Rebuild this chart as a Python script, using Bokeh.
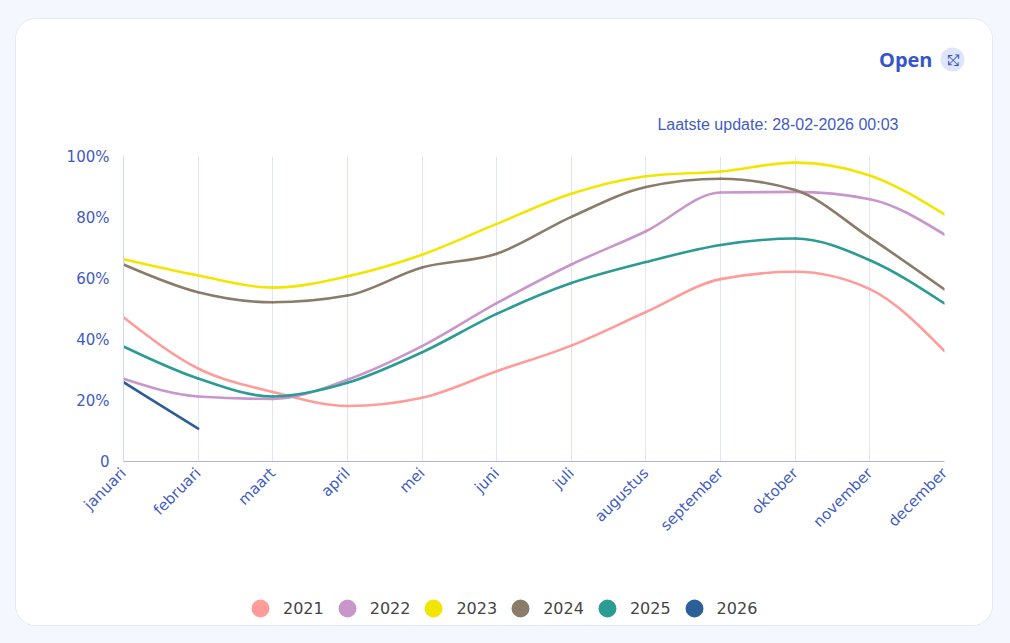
import numpy as np
from bokeh.plotting import figure
from bokeh.models import (FixedTicker, Legend, LegendItem, Label, Spacer,
                          GlobalInlineStyleSheet, ColumnDataSource)
from bokeh.layouts import column, row
from bokeh.embed import file_html
from bokeh.resources import INLINE

# ---------------- data ----------------
months = ["januari", "februari", "maart", "april", "mei", "juni", "juli",
          "augustus", "september", "oktober", "november", "december"]
years = ["2021", "2022", "2023", "2024", "2025", "2026"]
y2021 = [47.3, 30.5, 22.8, 18.2, 20.9, 29.6, 38.0, 49.0, 59.8, 62.2, 56.5, 36.2]
y2022 = [27.1, 21.3, 20.5, 26.8, 37.8, 51.9, 64.6, 75.5, 88.2, 88.4, 86.0, 74.4]
y2023 = [66.3, 61.0, 57.0, 60.7, 67.8, 77.9, 87.8, 93.5, 95.1, 98.0, 93.8, 81.0]
y2024 = [64.6, 55.5, 52.2, 54.4, 63.6, 68.1, 80.2, 90.0, 92.7, 89.0, 73.4, 56.4]
y2025 = [37.7, 27.2, 21.3, 25.8, 35.8, 48.4, 58.5, 65.4, 71.0, 73.1, 66.0, 51.8]
y2026 = [26.0, 10.8]
series = [y2021, y2022, y2023, y2024, y2025, y2026]
colors = ["#ff9c9a", "#c996cb", "#f2e600", "#8b7b69", "#2a9c93", "#2c5f97"]
y_ticks = [0, 20, 40, 60, 80, 100]
y_tick_labels = ["0", "20%", "40%", "60%", "80%", "100%"]
update_text = "Laatste update: 28-02-2026 00:03"

BLUE = "#3f5cc4"
BG = "#f4f7fd"
CARD_W = 976


def monotone_beziers(xs, ys):
    """Control points of a monotone cubic (d3 curveMonotoneX) through data."""
    x = np.asarray(xs, float)
    y = np.asarray(ys, float)
    n = len(x)
    if n == 2:
        s = (y[1] - y[0]) / (x[1] - x[0])
        t = np.array([s, s])
    else:
        t = np.zeros(n)
        sg = lambda v: -1.0 if v < 0 else 1.0
        for i in range(1, n - 1):
            h0 = x[i] - x[i - 1]
            h1 = x[i + 1] - x[i]
            s0 = (y[i] - y[i - 1]) / h0
            s1 = (y[i + 1] - y[i]) / h1
            p_ = (s0 * h1 + s1 * h0) / (h0 + h1)
            t[i] = (sg(s0) + sg(s1)) * min(abs(s0), abs(s1), 0.5 * abs(p_))
        t[0] = (3 * (y[1] - y[0]) / (x[1] - x[0]) - t[1]) / 2
        t[-1] = (3 * (y[-1] - y[-2]) / (x[-1] - x[-2]) - t[-2]) / 2
    x0, x1 = x[:-1], x[1:]
    y0, y1 = y[:-1], y[1:]
    dx = (x1 - x0) / 3
    return dict(x0=x0, y0=y0, x1=x1, y1=y1,
                cx0=x0 + dx, cy0=y0 + dx * t[:-1],
                cx1=x1 - dx, cy1=y1 - dx * t[1:])


def blank_fig(h):
    f = figure(width=CARD_W, height=h, x_range=(0, 1), y_range=(0, 1),
               output_backend="svg", toolbar_location=None,
               min_border=0, x_axis_type=None, y_axis_type=None)
    f.outline_line_color = None
    f.grid.visible = False
    f.background_fill_color = "white"
    f.border_fill_color = "white"
    f.frame_align = False
    return f


# ---------------- header ----------------
HEAD_H = 125
head = blank_fig(HEAD_H)
head.add_layout(Label(x=916, y=HEAD_H - 40, x_units="screen", y_units="screen",
                      text="Open", text_align="right", text_baseline="middle",
                      text_font="Open Sans", text_font_style="bold",
                      text_font_size="20px", text_color="#3556c8"))
head.add_layout(Label(x=936, y=HEAD_H - 40, x_units="screen", y_units="screen",
                      text="⤢", text_align="center", text_baseline="middle",
                      text_font="DejaVu Sans", text_font_size="15px",
                      text_color="#3556c8", background_fill_color="#dfe6fb",
                      padding=(6, 3), border_radius=12))
head.add_layout(Label(x=936, y=HEAD_H - 40, x_units="screen", y_units="screen",
                      text="⤡", text_align="center", text_baseline="middle",
                      text_font="DejaVu Sans", text_font_size="15px",
                      text_color="#3556c8"))
head.add_layout(Label(x=882, y=HEAD_H - 105, x_units="screen", y_units="screen",
                      text=update_text, text_align="right",
                      text_baseline="middle", text_font="Liberation Sans",
                      text_font_size="16px", text_color=BLUE))

# ---------------- main chart ----------------
MAIN_H = 421
p = figure(width=CARD_W, height=MAIN_H, x_range=(0, 11), y_range=(0, 100),
           output_backend="svg", toolbar_location=None,
           min_border_left=107, min_border_right=48,
           min_border_top=12, min_border_bottom=104)
p.background_fill_color = "white"
p.border_fill_color = "white"
p.outline_line_color = None
p.frame_align = False

p.xaxis.ticker = FixedTicker(ticks=list(range(len(months))))
p.xaxis.major_label_overrides = {i: m for i, m in enumerate(months)}
p.xaxis.major_label_orientation = np.pi / 4
p.yaxis.ticker = FixedTicker(ticks=y_ticks)
p.yaxis.major_label_overrides = {t: l for t, l in zip(y_ticks, y_tick_labels)}
for ax in (p.xaxis[0], p.yaxis[0]):
    ax.major_tick_line_color = None
    ax.minor_tick_line_color = None
    ax.major_label_text_color = BLUE
    ax.major_label_text_font = "DejaVu Sans"
    ax.major_label_text_font_size = "15px"
p.xaxis.axis_line_color = "#a7b5e6"
p.yaxis.axis_line_color = "#cdd5f0"
p.yaxis.major_label_standoff = 8
p.xaxis.major_label_standoff = 3
p.xgrid.grid_line_color = "#e0e4f4"
p.ygrid.grid_line_color = None

for yr, vals, col in zip(years, series, colors):
    xs = list(range(len(vals)))
    src = ColumnDataSource(monotone_beziers(xs, vals))
    p.bezier(x0="x0", y0="y0", x1="x1", y1="y1", cx0="cx0", cy0="cy0",
             cx1="cx1", cy1="cy1", source=src, line_color=col,
             line_width=2.6, line_cap="round")

# ---------------- legend footer ----------------
FOOT_H = 606 - HEAD_H - MAIN_H
foot = blank_fig(FOOT_H)
dots = [foot.scatter(x=[np.nan], y=[np.nan], size=8, marker="circle",
                     fill_color=c, line_color=c, line_width=10) for c in colors]
legend = Legend(items=[LegendItem(label=yr, renderers=[r]) for yr, r in zip(years, dots)],
                orientation="horizontal", location=(234, FOOT_H - 53),
                glyph_width=20, glyph_height=20, label_standoff=13, spacing=13,
                padding=0, margin=0, border_line_color=None,
                background_fill_alpha=0,
                label_text_font="DejaVu Sans", label_text_font_size="16px",
                label_text_color="#444444")
foot.add_layout(legend, "center")

card = column(head, p, foot,
              styles={"border-radius": "20px", "overflow": "hidden",
                      "box-shadow": "0 0 0 1px #e2e8f6",
                      "background-color": "white"})
card.stylesheets = [GlobalInlineStyleSheet(css="body { background-color: %s; }" % BG)]

layout = column(Spacer(height=19), row(Spacer(width=16), card))

open("out.html", "w").write(file_html(layout, INLINE))
